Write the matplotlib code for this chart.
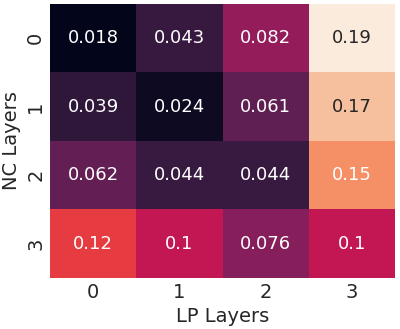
import matplotlib
matplotlib.use("Agg")
import matplotlib.pyplot as plt
import seaborn as sns
import numpy as np
import pandas as pd

nc_layers = [0, 1, 2, 3]
lp_layers = [0, 1, 2, 3]
row0 = [0.018, 0.043, 0.082, 0.19]
row1 = [0.039, 0.024, 0.061, 0.17]
row2 = [0.062, 0.044, 0.044, 0.15]
row3 = [0.12, 0.1, 0.076, 0.1]

sns.set_theme(style="white")
plt.rcParams['font.family'] = ['DejaVu Sans']

df = pd.DataFrame([row0, row1, row2, row3], index=nc_layers, columns=lp_layers)

fig = plt.figure(figsize=(4.0, 3.29), dpi=100)
ax = fig.add_axes([0.125, 0.155, 0.863, 0.833])
sns.heatmap(df, annot=True, cmap="rocket", cbar=False, ax=ax,
            annot_kws={"size": 13})
ax.set_xlabel("LP Layers", fontsize=14)
ax.set_ylabel("NC Layers", fontsize=14)
ax.tick_params(axis='both', labelsize=14, length=0)
plt.setp(ax.get_yticklabels(), rotation=90, va='center')
fig.savefig("out.png", dpi=100)
